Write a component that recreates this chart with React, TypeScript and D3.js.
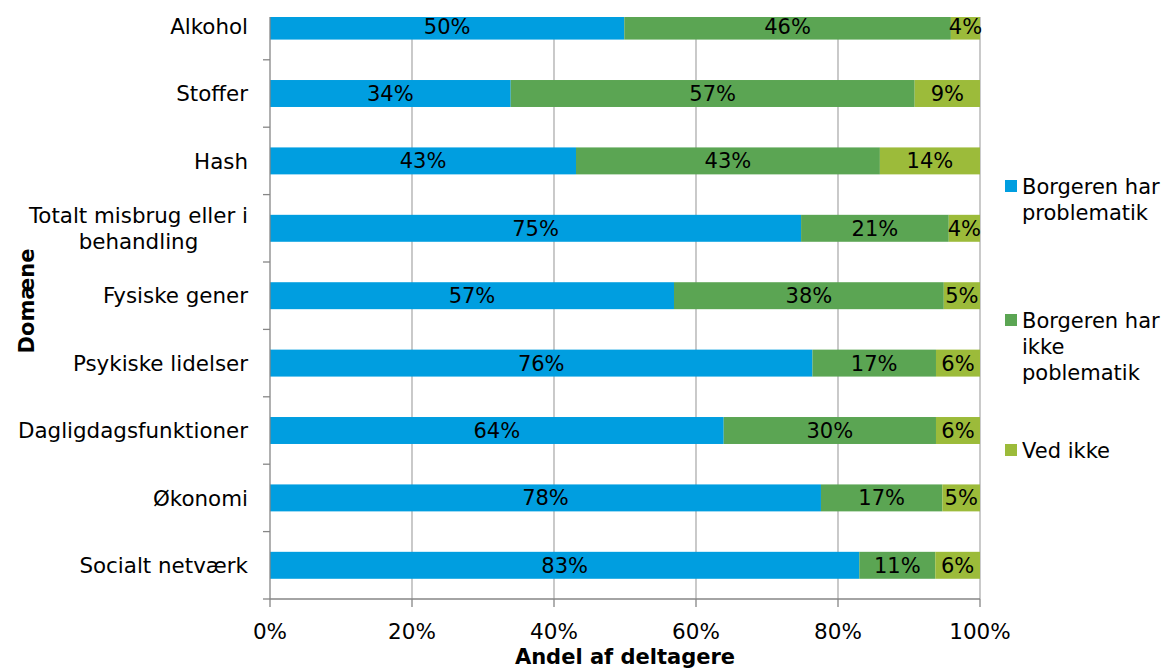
import React, { useEffect, useRef } from "react";
import * as d3 from "d3";

const categories = [
  "Alkohol",
  "Stoffer",
  "Hash",
  "Totalt misbrug eller i|behandling",
  "Fysiske gener",
  "Psykiske lidelser",
  "Dagligdagsfunktioner",
  "Økonomi",
  "Socialt netværk",
];
const seriesNames = [
  "Borgeren har|problematik",
  "Borgeren har|ikke|poblematik",
  "Ved ikke",
];
const harProblematik = [49.9, 33.9, 43.1, 74.8, 56.9, 76.4, 63.9, 77.6, 83.0];
const ikkeProblematik = [46.0, 56.9, 42.8, 20.8, 38.0, 17.4, 29.9, 17.1, 10.7];
const vedIkke = [4.1, 9.2, 14.1, 4.4, 5.1, 6.2, 6.2, 5.3, 6.3];
const xTicks = [0, 20, 40, 60, 80, 100];
const colors = ["#009EE0", "#5BA553", "#9CBB3A"];

const W = 1165;
const H = 670;
const FONT = "'DejaVu Sans', Verdana, sans-serif";

export default function App() {
  const ref = useRef<SVGSVGElement>(null);

  useEffect(() => {
    const svg = d3.select(ref.current);
    svg.selectAll("*").remove();

    const x0 = 270, x1 = 980, yBottom = 599, step = 67.4, plotTop = 17;
    const x = d3.scaleLinear().domain([0, 100]).range([x0, x1]);
    const y = d3
      .scaleBand<string>()
      .domain(categories)
      .range([yBottom - step * categories.length, yBottom])
      .paddingInner(0.6)
      .paddingOuter(0.3);

    svg
      .append("defs")
      .append("clipPath")
      .attr("id", "plotClip")
      .append("rect")
      .attr("x", x0)
      .attr("y", plotTop)
      .attr("width", x1 - x0 + 40)
      .attr("height", yBottom - plotTop);

    // gridlines
    svg
      .append("g")
      .selectAll("line")
      .data(xTicks.filter((t) => t > 0))
      .join("line")
      .attr("x1", (d) => x(d))
      .attr("x2", (d) => x(d))
      .attr("y1", plotTop)
      .attr("y2", yBottom)
      .attr("stroke", "#A6A6A6")
      .attr("stroke-width", 1.2);

    const rows = categories.map((c, i) => ({
      cat: c,
      vals: [harProblematik[i], ikkeProblematik[i], vedIkke[i]],
    }));

    const plot = svg.append("g").attr("clip-path", "url(#plotClip)");
    rows.forEach((r) => {
      let acc = 0;
      r.vals.forEach((v, si) => {
        const start = acc;
        acc += v;
        plot
          .append("rect")
          .attr("x", x(start))
          .attr("y", y(r.cat)!)
          .attr("width", x(acc) - x(start))
          .attr("height", y.bandwidth())
          .attr("fill", colors[si]);
      });
    });

    // bar labels
    const labels = svg.append("g").attr("clip-path", "url(#plotClip)");
    rows.forEach((r) => {
      let acc = 0;
      r.vals.forEach((v) => {
        const start = acc;
        acc += v;
        labels
          .append("text")
          .attr("x", (x(start) + x(acc)) / 2)
          .attr("y", y(r.cat)! + y.bandwidth() / 2)
          .attr("dy", "0.36em")
          .attr("text-anchor", "middle")
          .attr("font-family", FONT)
          .attr("font-size", 21)
          .attr("fill", "#000")
          .text(Math.round(v) + "%");
      });
    });

    // axes lines
    svg
      .append("line")
      .attr("x1", x0)
      .attr("x2", x0)
      .attr("y1", plotTop)
      .attr("y2", yBottom)
      .attr("stroke", "#868686")
      .attr("stroke-width", 1.3);
    svg
      .append("line")
      .attr("x1", x0)
      .attr("x2", x1)
      .attr("y1", yBottom)
      .attr("y2", yBottom)
      .attr("stroke", "#868686")
      .attr("stroke-width", 1.3);

    // y ticks at band boundaries
    const boundaries = categories.map((c) => y(c)! - (y.step() - y.bandwidth()) / 2 + y.step());
    svg
      .append("g")
      .selectAll("line")
      .data(boundaries.filter((b) => b > plotTop))
      .join("line")
      .attr("x1", x0 - 7)
      .attr("x2", x0)
      .attr("y1", (d) => d)
      .attr("y2", (d) => d)
      .attr("stroke", "#868686")
      .attr("stroke-width", 1.3);

    // x ticks
    svg
      .append("g")
      .selectAll("line")
      .data(xTicks)
      .join("line")
      .attr("x1", (d) => x(d))
      .attr("x2", (d) => x(d))
      .attr("y1", yBottom)
      .attr("y2", yBottom + 8)
      .attr("stroke", "#868686")
      .attr("stroke-width", 1.3);

    svg
      .append("g")
      .selectAll("text")
      .data(xTicks)
      .join("text")
      .attr("x", (d) => x(d))
      .attr("y", 639)
      .attr("text-anchor", "middle")
      .attr("font-family", FONT)
      .attr("font-size", 21.5)
      .attr("fill", "#000")
      .text((d) => d + "%");

    // category labels
    const catG = svg.append("g");
    categories.forEach((c) => {
      const lines = c.split("|");
      const cy = y(c)! + y.bandwidth() / 2;
      const lh = 26;
      const t = catG
        .append("text")
        .attr("font-family", FONT)
        .attr("font-size", 21.4)
        .attr("fill", "#000");
      const spans = lines.map((l, li) =>
        t
          .append("tspan")
          .attr("y", cy + (li - (lines.length - 1) / 2) * lh)
          .attr("dy", "0.36em")
          .text(l)
      );
      const widths = spans.map((s) => (s.node() as SVGTSpanElement).getComputedTextLength());
      const maxW = Math.max(...widths);
      const right = 248;
      if (lines.length === 1) {
        t.attr("text-anchor", "end");
        spans.forEach((s) => s.attr("x", right));
      } else {
        t.attr("text-anchor", "middle");
        spans.forEach((s) => s.attr("x", right - maxW / 2));
      }
    });

    // axis titles
    svg
      .append("text")
      .attr("x", 625)
      .attr("y", 664)
      .attr("text-anchor", "middle")
      .attr("font-family", FONT)
      .attr("font-size", 21)
      .attr("font-weight", "bold")
      .text("Andel af deltagere");
    svg
      .append("text")
      .attr("transform", "translate(34,301) rotate(-90)")
      .attr("text-anchor", "middle")
      .attr("font-family", FONT)
      .attr("font-size", 21)
      .attr("font-weight", "bold")
      .text("Domæne");

    // legend
    const legendY = [186, 320, 450];
    seriesNames.forEach((s, i) => {
      const lines = s.split("|");
      const g = svg.append("g");
      g.append("rect")
        .attr("x", 1005)
        .attr("y", legendY[i] - 6)
        .attr("width", 12)
        .attr("height", 12)
        .attr("fill", colors[i]);
      const t = g
        .append("text")
        .attr("font-family", FONT)
        .attr("font-size", 21)
        .attr("fill", "#000");
      lines.forEach((l, li) => {
        t.append("tspan")
          .attr("x", 1022)
          .attr("y", legendY[i] + li * 26)
          .attr("dy", "0.36em")
          .text(l);
      });
    });
  }, []);

  return (
    <svg
      ref={ref}
      width={W}
      height={H}
      style={{ position: "absolute", left: 0, top: 0, background: "#fff" }}
    />
  );
}
